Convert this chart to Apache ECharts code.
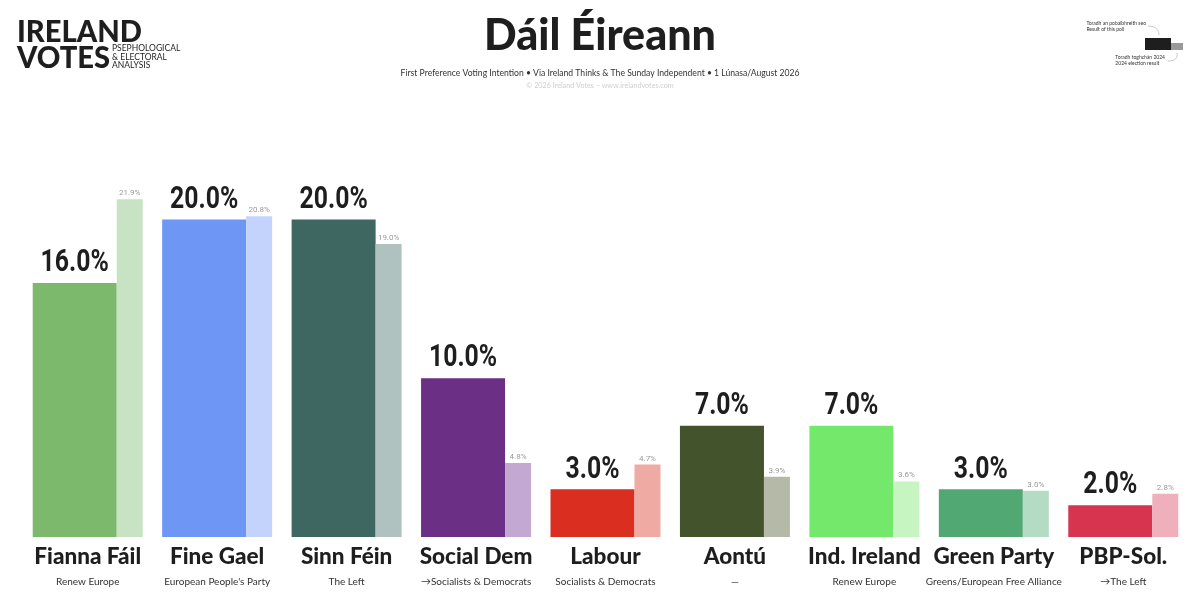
<!DOCTYPE html>
<html>
<head>
<meta charset="utf-8">
<script src="https://cdn.jsdelivr.net/npm/echarts@6/dist/echarts.min.js"></script>
<style>html,body{margin:0;padding:0;background:#fff;}#c{width:1200px;height:600px;}</style>
</head>
<body>
<div id="c"></div>
<script>
const categories = ['Fianna Fáil','Fine Gael','Sinn Féin','Social Dem','Labour','Aontú','Ind. Ireland','Green Party','PBP-Sol.'];
const euGroups = ['Renew Europe',"European People's Party",'The Left','→Socialists & Democrats','Socialists & Democrats','—','Renew Europe','Greens/European Free Alliance','→The Left'];
const pollValues = [16.0, 20.0, 20.0, 10.0, 3.0, 7.0, 7.0, 3.0, 2.0];
const electionValues = [21.9, 20.8, 19.0, 4.8, 4.7, 3.9, 3.6, 3.0, 2.8];
const pollColors = ['#7cb96d','#6e96f5','#3e6761','#6b2f85','#d92e20','#43532b','#74e86b','#51a873','#d6344f'];
const electionColors = ['#c8e3c3','#c3d3fb','#b0c2bf','#c3a9d1','#eeaaa3','#b4baa7','#c7f5c2','#b4dbc3','#efb0bc'];

const cond = "Roboto,'Liberation Sans',sans-serif";
const geo = "Lato,'Noto Sans',sans-serif";

const chart = echarts.init(document.getElementById('c'));
chart.setOption({
  backgroundColor: '#ffffff',
  animation: false,
  title: [
    { text: 'Dáil Éireann', left: 'center', top: 10,
      textStyle: { fontFamily: geo, fontWeight: 900, fontSize: 43, color: '#1e1e1e' } },
    { text: 'First Preference Voting Intention • Via Ireland Thinks & The Sunday Independent • 1 Lúnasa/August 2026',
      left: 'center', top: 64,
      textStyle: { fontFamily: geo, fontWeight: 400, fontSize: 8.6, color: '#333' } },
    { text: '© 2026 Ireland Votes – www.irelandvotes.com', left: 'center', top: 77,
      textStyle: { fontFamily: geo, fontWeight: 400, fontSize: 7.2, color: '#cfcfcf' } }
  ],
  grid: { left: 23, right: 12, top: 140, bottom: 63 },
  xAxis: {
    type: 'category', data: categories,
    axisLine: { show: false }, axisTick: { show: false },
    axisLabel: {
      margin: 7, interval: 0,
      formatter: (v, i) => '{n|' + v + '}\n{s|' + euGroups[i] + '}',
      rich: {
        n: { fontFamily: geo, fontWeight: 900, fontSize: 22.5, color: '#1e1e1e', lineHeight: 26 },
        s: { fontFamily: geo, fontWeight: 400, fontSize: 10, color: '#333', lineHeight: 24 }
      }
    }
  },
  yAxis: [
    { type: 'value', min: 0, max: 25, show: false, splitLine: { show: false } },
    { type: 'value', min: 0, max: 25.75, show: false, splitLine: { show: false } }
  ],
  series: [
    { type: 'bar', name: 'Result of this poll', yAxisIndex: 0, barWidth: 84, barGap: '0%',
      data: pollValues.map((v, i) => ({ value: v, itemStyle: { color: pollColors[i] } })) },
    { type: 'bar', name: '2024 election result', yAxisIndex: 1, barWidth: 26, barGap: '0%',
      data: electionValues.map((v, i) => ({ value: v, itemStyle: { color: electionColors[i] } })),
      label: { show: true, position: 'top', distance: 2,
        formatter: p => p.value.toFixed(1) + '%',
        fontFamily: cond, fontSize: 8, color: '#9a9a9a' } },
    { type: 'custom', name: 'poll labels', yAxisIndex: 0, silent: true,
      data: pollValues.map((v, i) => [i, v]),
      renderItem: (params, api) => {
        const p = api.coord([api.value(0), api.value(1)]);
        return {
          type: 'text', x: p[0] - 13, y: p[1] - 4, scaleX: 0.8,
          style: { text: api.value(1).toFixed(1) + '%', fontFamily: cond, fontWeight: 'bold',
            fontSize: 31, fill: '#1e1e1e', align: 'center', verticalAlign: 'bottom' }
        };
      } }
  ],
  graphic: [
    { type: 'text', x: 17, y: 16, scaleX: 0.94, style: { text: 'IRELAND', fontFamily: geo, fontWeight: 900, fontSize: 31, fill: '#1e1e1e' } },
    { type: 'text', x: 17, y: 42, scaleX: 0.94, style: { text: 'VOTES', fontFamily: geo, fontWeight: 900, fontSize: 31, fill: '#1e1e1e' } },
    { type: 'text', left: 112, top: 44, style: { text: 'PSEPHOLOGICAL\n& ELECTORAL\nANALYSIS', fontFamily: geo, fontSize: 8.5, lineHeight: 8.5, fill: '#1e1e1e' } },
    { type: 'rect', shape: { x: 1145, y: 38, width: 26, height: 12 }, style: { fill: '#1e1e1e' } },
    { type: 'rect', shape: { x: 1171, y: 43, width: 12, height: 7 }, style: { fill: '#999' } },
    { type: 'text', right: 54, top: 21, style: { text: 'Toradh an pobalbhreith seo\nResult of this poll', fontFamily: geo, fontSize: 5, lineHeight: 5.5, fill: '#333', align: 'right' } },
    { type: 'text', right: 35, top: 55, style: { text: 'Toradh toghchán 2024\n2024 election result', fontFamily: geo, fontSize: 5, lineHeight: 5.5, fill: '#333', align: 'right' } },
    { type: 'bezierCurve', shape: { x1: 1148, y1: 26, x2: 1159, y2: 35, cpx1: 1156, cpy1: 26, cpx2: 1159, cpy2: 30 }, style: { stroke: '#bbb', lineWidth: 0.8, fill: null } },
    { type: 'bezierCurve', shape: { x1: 1177, y1: 53, x2: 1168, y2: 61, cpx1: 1178, cpy1: 58, cpx2: 1175, cpy2: 61 }, style: { stroke: '#bbb', lineWidth: 0.8, fill: null } }
  ]
});
</script>
</body>
</html>
